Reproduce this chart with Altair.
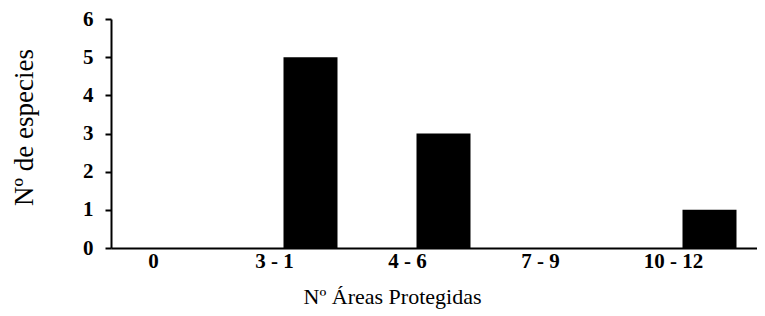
import altair as alt
import pandas as pd

categories = ["0", "3 - 1", "4 - 6", "7 - 9", "10 - 12"]
species = [0, 5, 3, 0, 1]
y_ticks = [0, 1, 2, 3, 4, 5, 6]

df = pd.DataFrame({"cat": categories, "n": species})
FONT = "Liberation Serif"

chart = alt.Chart(df).mark_bar(color="black").encode(
    x=alt.X(
        "cat:N",
        sort=categories,
        scale=alt.Scale(range=[0, 665], paddingInner=0.594, paddingOuter=0.297),
        axis=alt.Axis(
            title="Nº Áreas Protegidas",
            labelAngle=0,
            ticks=False,
            domainColor="black",
            domainWidth=2,
            labelFont=FONT,
            labelFontSize=21,
            labelFontWeight="bold",
            labelColor="black",
            labelPadding=2,
            labelOffset={"condition": {"test": "datum.value === '0'", "value": -24}, "value": -36},
            titleFont=FONT,
            titleFontSize=22,
            titleFontWeight="normal",
            titleColor="black",
            titleX=281,
            titleY=55,
            titleBaseline="alphabetic",
        ),
    ),
    y=alt.Y(
        "n:Q",
        scale=alt.Scale(domain=[0, 6], nice=False),
        axis=alt.Axis(
            values=y_ticks,
            title="Nº de especies",
            grid=False,
            domainColor="black",
            domainWidth=2,
            tickColor="black",
            tickWidth=2,
            tickSize=6,
            labelFont=FONT,
            labelFontSize=21,
            labelFontWeight="bold",
            labelColor="black",
            labelPadding=12,
            titleFont=FONT,
            titleFontSize=27,
            titleFontWeight="normal",
            titleColor="black",
            titlePadding=44,
            titleY=108,
        ),
    ),
).properties(
    width=646,
    height=229,
    autosize=alt.AutoSizeParams(type="none"),
    padding={"left": 103, "top": 11, "right": 0, "bottom": 62},
).configure_view(stroke=None)

chart.save("out.html", embed_options={"renderer": "svg", "actions": False})
